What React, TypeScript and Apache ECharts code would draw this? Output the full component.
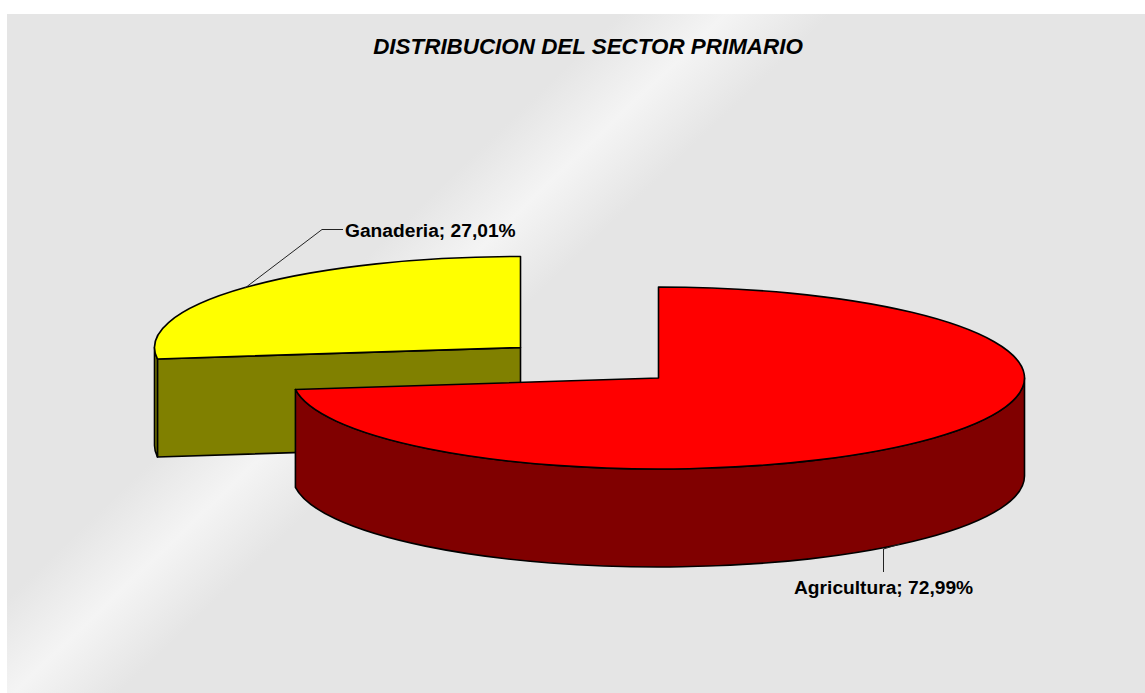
import React, { useEffect, useRef } from "react";
import * as echarts from "echarts";

const categories = ["Ganaderia", "Agricultura"];
const shares = [27.01, 72.99];
const topColors = ["#ffff00", "#ff0000"];
const wallColors = ["#808000", "#800000"];
const titleText = "DISTRIBUCION DEL SECTOR PRIMARIO";

// Pie geometry (layout, not data)
const RX = 366;
const RY = 91;
const DEPTH = 98;
const centers = [
  [520.5, 347.5],
  [658.5, 378],
];
const leaders = [
  [[245, 288], [322, 229.5], [343, 229.5]],
  [[900, 544], [883.5, 549], [883.5, 572]],
];
const labelAnchors = [
  [345, 230, "left"],
  [794, 587, "left"],
];

const total = shares.reduce((a, b) => a + b, 0);
// Agricultura starts at 12 o'clock and runs clockwise, Ganaderia closes the circle.
function sliceRange(i: number): [number, number] {
  const agri = (shares[1] / total) * 360;
  return i === 1 ? [0, agri] : [agri, 360];
}

function pt(cx: number, cy: number, deg: number, dy = 0): [number, number] {
  const t = (deg * Math.PI) / 180;
  return [cx + RX * Math.sin(t), cy - RY * Math.cos(t) + dy];
}

function arcTo(p: [number, number], span: number, sweep: number) {
  return `A${RX} ${RY} 0 ${span > 180 ? 1 : 0} ${sweep} ${p[0]} ${p[1]}`;
}

const renderItem = (_params: any, api: any) => {
  const i = api.value(0);
  const [a0, a1] = sliceRange(i);
  const [cx, cy] = centers[i];
  const children: any[] = [];
  const stroke = { stroke: "#000", lineWidth: 1.6, lineJoin: "round" };
  const c = [cx, cy];

  const radial = (deg: number) => {
    const p = pt(cx, cy, deg);
    const d = `M${c[0]} ${c[1]}L${p[0]} ${p[1]}L${p[0]} ${p[1] + DEPTH}L${c[0]} ${c[1] + DEPTH}Z`;
    children.push({ type: "path", shape: { pathData: d }, style: { fill: wallColors[i], ...stroke } });
  };
  if (Math.sin((a0 * Math.PI) / 180) < -1e-6) radial(a0);
  if (Math.sin((a1 * Math.PI) / 180) > 1e-6) radial(a1);

  const w0 = Math.max(a0, 90);
  const w1 = Math.min(a1, 270);
  if (w1 > w0) {
    const p0 = pt(cx, cy, w0);
    const p1 = pt(cx, cy, w1);
    const q1 = pt(cx, cy, w1, DEPTH);
    const q0 = pt(cx, cy, w0, DEPTH);
    const d = `M${p0[0]} ${p0[1]}${arcTo(p1, w1 - w0, 1)}L${q1[0]} ${q1[1]}${arcTo(q0, w1 - w0, 0)}Z`;
    children.push({ type: "path", shape: { pathData: d }, style: { fill: wallColors[i], ...stroke } });
  }

  const s = pt(cx, cy, a0);
  const e = pt(cx, cy, a1);
  const top = `M${c[0]} ${c[1]}L${s[0]} ${s[1]}${arcTo(e, a1 - a0, 1)}Z`;
  children.push({ type: "path", shape: { pathData: top }, style: { fill: topColors[i], ...stroke } });

  children.push({
    type: "polyline",
    shape: { points: leaders[i] },
    style: { fill: "none", stroke: "#222", lineWidth: 1 },
  });
  const [lx, ly, align] = labelAnchors[i] as [number, number, string];
  children.push({
    type: "text",
    x: lx,
    y: ly,
    style: {
      text: `${categories[i]}; ${api.value(1).toFixed(2).replace(".", ",")}%`,
      fill: "#000",
      font: "bold 19.2px 'Liberation Sans', Arial, sans-serif",
      align,
      verticalAlign: "middle",
    },
  });
  return { type: "group", children };
};

export default function App() {
  const ref = useRef<HTMLDivElement>(null);
  useEffect(() => {
    const chart = echarts.init(ref.current!, null, { renderer: "svg", width: 1145, height: 693 });
    chart.setOption({
      animation: false,
      backgroundColor: "#ffffff",
      title: {
        text: titleText,
        left: 583,
        top: 30,
        textAlign: "center",
        textStyle: {
          fontFamily: "'Liberation Sans', Arial, sans-serif",
          fontSize: 22.4,
          fontWeight: "bold",
          fontStyle: "italic",
          color: "#000",
        },
      },
      graphic: [
        {
          type: "rect",
          z: -10,
          shape: { x: 7, y: 14, width: 1138, height: 679 },
          style: {
            fill: new echarts.graphic.LinearGradient(
              300, 320, 400, 425,
              [
                { offset: 0, color: "#e5e5e5" },
                { offset: 0.5, color: "#f4f4f4" },
                { offset: 1, color: "#e5e5e5" },
              ],
              true
            ),
          },
        },
      ],
      series: [
        {
          type: "custom",
          coordinateSystem: "none",
          renderItem,
          clip: false,
          silent: true,
          data: categories.map((_, i) => [i, shares[i]]),
        },
      ],
    });
    return () => chart.dispose();
  }, []);
  return <div ref={ref} style={{ position: "absolute", left: 0, top: 0, width: 1145, height: 693 }} />;
}
